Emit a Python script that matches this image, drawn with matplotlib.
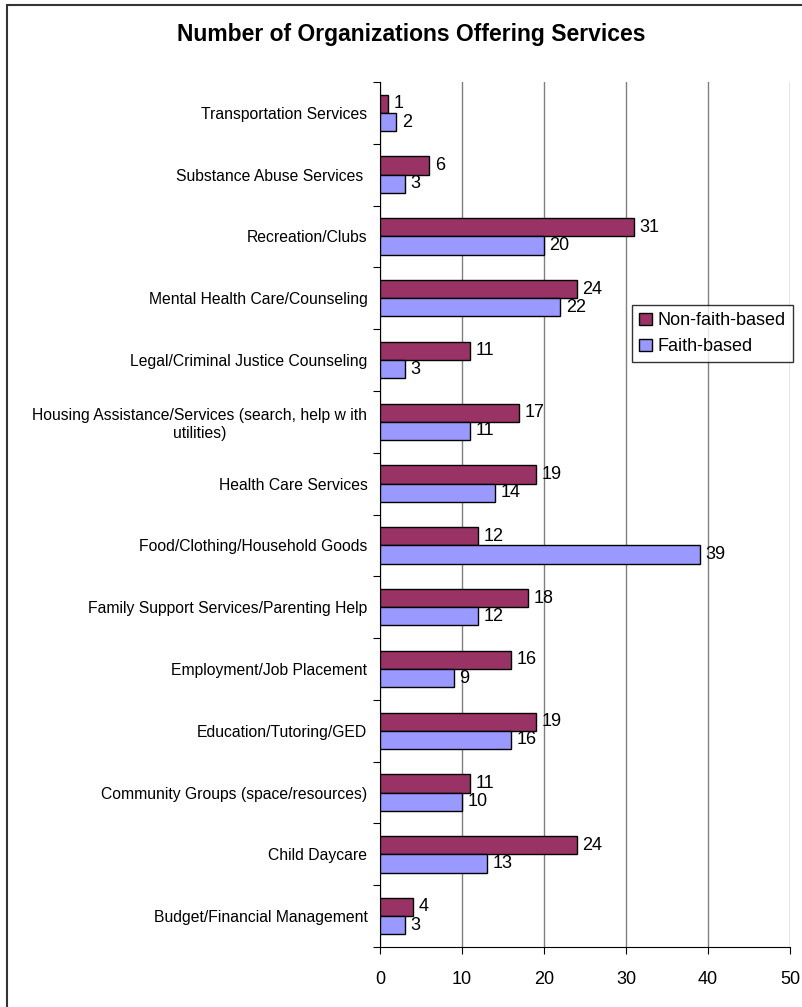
import numpy as np
import matplotlib.pyplot as plt
from matplotlib.patches import Rectangle

plt.rcParams['font.family'] = ['Liberation Sans', 'DejaVu Sans']

# categories, top to bottom as shown
categories = [
    'Transportation Services',
    'Substance Abuse Services ',
    'Recreation/Clubs',
    'Mental Health Care/Counseling',
    'Legal/Criminal Justice Counseling',
    'Housing Assistance/Services (search, help w ith\nutilities)',
    'Health Care Services',
    'Food/Clothing/Household Goods',
    'Family Support Services/Parenting Help',
    'Employment/Job Placement',
    'Education/Tutoring/GED',
    'Community Groups (space/resources)',
    'Child Daycare',
    'Budget/Financial Management',
]
non_faith = [1, 6, 31, 24, 11, 17, 19, 12, 18, 16, 19, 11, 24, 4]
faith = [2, 3, 20, 22, 3, 11, 14, 39, 12, 9, 16, 10, 13, 3]
x_ticks = [0, 10, 20, 30, 40, 50]

fig = plt.figure(figsize=(8.03, 10.07), dpi=100)
ax = fig.add_axes([380 / 803, 1 - 947 / 1007, 410 / 803, 865 / 1007])

y = np.arange(len(categories))
h = 0.295
off = h / 2

bars_nf = ax.barh(y - off, non_faith, height=h, color='#993366',
                  edgecolor='black', linewidth=1, label='Non-faith-based', zorder=3)
bars_f = ax.barh(y + off, faith, height=h, color='#9999FF',
                 edgecolor='black', linewidth=1, label='Faith-based', zorder=3)

for bars in (bars_nf, bars_f):
    for b in bars:
        w = b.get_width()
        ax.annotate(str(int(w)), (w, b.get_y() + b.get_height() / 2),
                    xytext=(4, 0), textcoords='offset points',
                    ha='left', va='center', fontsize=13)

ax.set_xlim(0, 50)
ax.set_ylim(len(categories) - 0.5, -0.5)
ax.set_xticks(x_ticks)
ax.tick_params(axis='x', labelsize=13, length=5, direction='out', pad=12)

# tick marks at category boundaries, labels at centres
ax.set_yticks(np.arange(-0.5, len(categories), 1))
ax.set_yticklabels([])
ax.set_yticks(y, minor=True)
ax.set_yticklabels(categories, minor=True, fontsize=11.3, ha='right',
                   multialignment='center')
ax.tick_params(axis='y', which='major', length=5, direction='out')
ax.tick_params(axis='y', which='minor', length=0, pad=9)

ax.xaxis.grid(True, color='#808080', linewidth=1)
ax.set_axisbelow(True)
for s in ('top', 'right'):
    ax.spines[s].set_visible(False)

fig.text(411 / 803, 1 - 35 / 1007, 'Number of Organizations Offering Services',
         fontsize=16.5, fontweight='bold', ha='center', va='center')

leg = ax.legend(loc='upper left', bbox_to_anchor=(632 / 803, 1 - 305 / 1007),
                bbox_transform=fig.transFigure, fontsize=13, frameon=True,
                fancybox=False, edgecolor='black', handlelength=0.7,
                handleheight=0.7, handletextpad=0.3, borderpad=0.4,
                labelspacing=0.5, borderaxespad=0)
leg.get_frame().set_linewidth(1)

fig.patches.append(Rectangle((7 / 803, -0.1), 1.2, 1.1 - 5 / 1007,
                             transform=fig.transFigure, fill=False,
                             edgecolor='#333333', linewidth=1.5))

fig.savefig('out.png', dpi=100)
